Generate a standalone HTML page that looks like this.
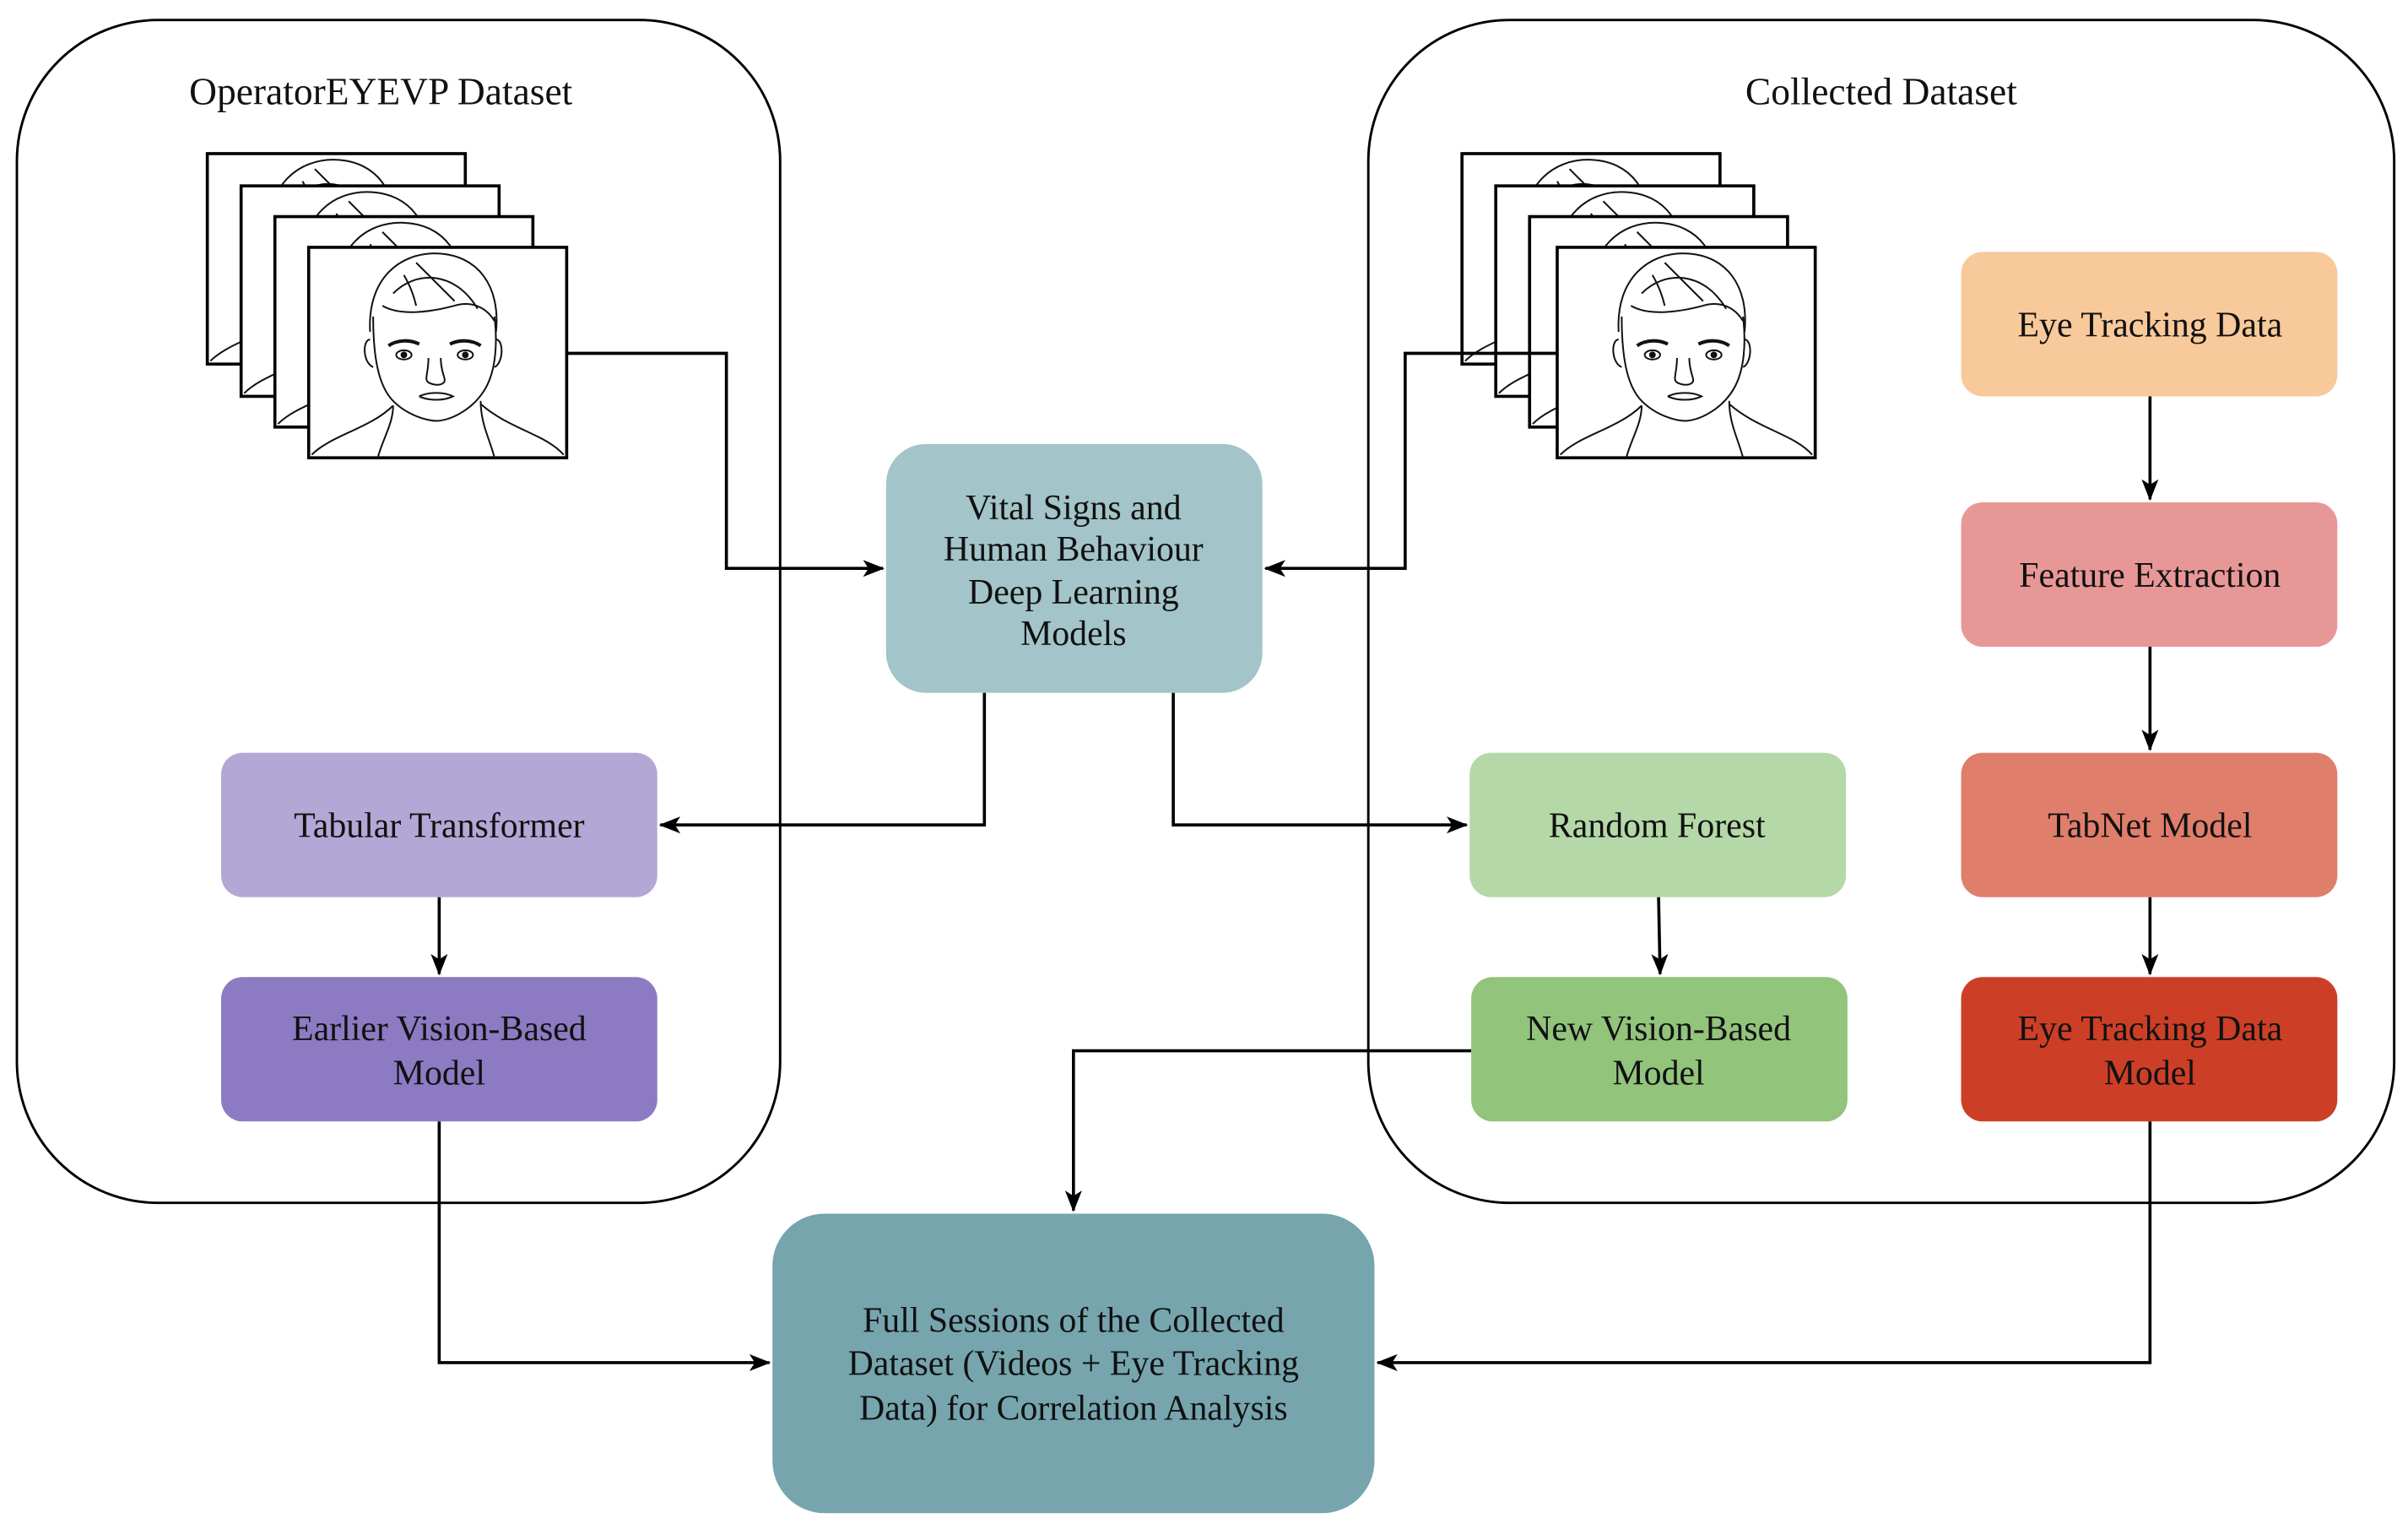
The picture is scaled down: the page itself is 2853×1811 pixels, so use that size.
<!DOCTYPE html>
<html><head><meta charset="utf-8"><style>
html,body{margin:0;padding:0;background:#fff;}
svg{display:block;}
</style></head><body>
<svg width="2853" height="1811" viewBox="0 0 1568 995.3" preserveAspectRatio="none" xmlns="http://www.w3.org/2000/svg">
<defs>
<marker id="a" markerWidth="14" markerHeight="11" refX="13" refY="5.5" orient="auto" markerUnits="userSpaceOnUse">
<path d="M0,0 L14,5.5 L0,11 L3.5,5.5 Z" fill="#000"/></marker>
<g id="face">
<rect x="0" y="0" width="168" height="137" fill="#fff" stroke="#000" stroke-width="2"/>
<g fill="none" stroke="#111" stroke-width="1.1">
<path d="M40,55 C38,20 60,3 84,4 C110,5 125,25 122,55"/>
<path d="M55,30 C70,15 95,15 110,40 M70,10 C80,20 85,25 95,35 M62,18 C66,25 68,30 70,38"/>
<path d="M42,45 C42,70 45,90 55,100 C65,110 78,113 84,113 C95,112 108,104 115,92 C122,80 123,62 121,45"/>
<path d="M48,38 C60,45 80,42 95,38 C105,35 115,38 121,48"/>
<path d="M40,60 C35,60 35,75 42,78 M122,60 C127,60 127,75 121,78"/>
<path d="M52,64 C58,60 66,60 72,63 M92,63 C98,60 106,60 112,64" stroke-width="2.2"/>
<ellipse cx="62" cy="70" rx="5" ry="3"/><ellipse cx="102" cy="70" rx="5" ry="3"/>
<circle cx="62" cy="70" r="1.6" fill="#111"/><circle cx="102" cy="70" r="1.6" fill="#111"/>
<path d="M78,72 C78,82 75,86 78,88 C82,90 86,90 88,88 C90,86 86,82 86,72"/>
<path d="M72,97 C78,94 88,94 94,97 C88,100 78,100 72,97"/>
<path d="M55,103 C55,115 48,125 45,137 M112,100 C112,115 118,125 121,137"/>
<path d="M55,103 C40,118 15,122 2,135 M112,102 C130,118 155,122 166,135"/>
</g></g>
</defs>

<rect x="11" y="13" width="497" height="770" rx="92" fill="none" stroke="#000" stroke-width="1.6"/>
<rect x="891" y="13" width="668" height="770" rx="92" fill="none" stroke="#000" stroke-width="1.6"/>

<use href="#face" x="135" y="100"/><use href="#face" x="157" y="121"/><use href="#face" x="179" y="141"/><use href="#face" x="201" y="161"/>
<use href="#face" x="952" y="100"/><use href="#face" x="974" y="121"/><use href="#face" x="996" y="141"/><use href="#face" x="1014" y="161"/>

<g fill="none" stroke="#000" stroke-width="2">
<path d="M369,230 H473 V370 H575" marker-end="url(#a)"/>
<path d="M1014,230 H915 V370 H824" marker-end="url(#a)"/>
<path d="M641,451 V537 H430" marker-end="url(#a)"/>
<path d="M764,451 V537 H955" marker-end="url(#a)"/>
<path d="M286,584 V634" marker-end="url(#a)"/>
<path d="M1080,584 L1081,634" marker-end="url(#a)"/>
<path d="M1400,258 V325" marker-end="url(#a)"/>
<path d="M1400,421 V488" marker-end="url(#a)"/>
<path d="M1400,584 V634" marker-end="url(#a)"/>
<path d="M286,730 V887 H501" marker-end="url(#a)"/>
<path d="M958,684 H699 V788" marker-end="url(#a)"/>
<path d="M1400,730 V887 H897" marker-end="url(#a)"/>
</g>

<rect x="577" y="289" width="245" height="162" rx="26" fill="#a3c4c8"/>
<rect x="144" y="490" width="284" height="94" rx="14" fill="#b3a7d6"/>
<rect x="144" y="636" width="284" height="94" rx="14" fill="#8c7bc2"/>
<rect x="957" y="490" width="245" height="94" rx="14" fill="#b5d8a8"/>
<rect x="958" y="636" width="245" height="94" rx="14" fill="#92c47c"/>
<rect x="1277" y="164" width="245" height="94" rx="14" fill="#f8c99a"/>
<rect x="1277" y="327" width="245" height="94" rx="14" fill="#e89797"/>
<rect x="1277" y="490" width="245" height="94" rx="14" fill="#df7e6b"/>
<rect x="1277" y="636" width="245" height="94" rx="14" fill="#cc3f26"/>
<rect x="503" y="790" width="392" height="195" rx="34" fill="#76a5ae"/>

<g font-family="'Liberation Serif', 'DejaVu Serif', serif" font-size="23" fill="#111" text-anchor="middle">
<text x="248" y="68" font-size="25">OperatorEYEVP Dataset</text>
<text x="1225" y="68" font-size="25">Collected Dataset</text>
<text x="699" y="338">Vital Signs and</text>
<text x="699" y="365">Human Behaviour</text>
<text x="699" y="393">Deep Learning</text>
<text x="699" y="420">Models</text>
<text x="286" y="545">Tabular Transformer</text>
<text x="286" y="677">Earlier Vision-Based</text>
<text x="286" y="706">Model</text>
<text x="1079" y="545">Random Forest</text>
<text x="1080" y="677">New Vision-Based</text>
<text x="1080" y="706">Model</text>
<text x="1400" y="219">Eye Tracking Data</text>
<text x="1400" y="382">Feature Extraction</text>
<text x="1400" y="545">TabNet Model</text>
<text x="1400" y="677">Eye Tracking Data</text>
<text x="1400" y="706">Model</text>
<text x="699" y="867">Full Sessions of the Collected</text>
<text x="699" y="895">Dataset (Videos + Eye Tracking</text>
<text x="699" y="924">Data) for Correlation Analysis</text>
</g>
</svg>
</body></html>
